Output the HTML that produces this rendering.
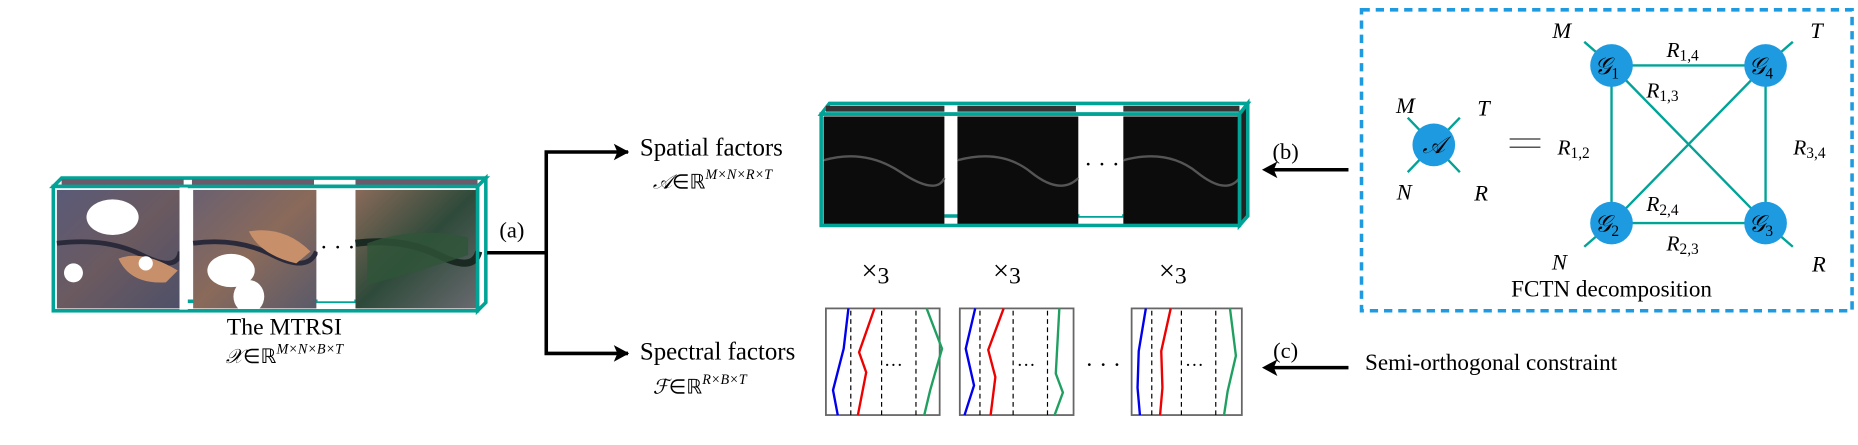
<!DOCTYPE html>
<html><head><meta charset="utf-8"><style>
html,body{margin:0;padding:0;background:#fff;}
svg{display:block;}
text{font-family:"Liberation Serif",serif;fill:#000;}
.i{font-style:italic;}
</style></head><body>
<svg width="1858" height="445" viewBox="0 0 1568 375" xmlns="http://www.w3.org/2000/svg">
<defs>
<linearGradient id="sat1" x1="0" y1="0" x2="1" y2="1">
<stop offset="0" stop-color="#5a5a78"/><stop offset="0.5" stop-color="#6b5a60"/><stop offset="1" stop-color="#4e5068"/>
</linearGradient>
<linearGradient id="sat2" x1="0" y1="0" x2="1" y2="1">
<stop offset="0" stop-color="#6a6070"/><stop offset="0.5" stop-color="#8a6a5a"/><stop offset="1" stop-color="#5a5a6a"/>
</linearGradient>
<linearGradient id="sat3" x1="0" y1="0" x2="1" y2="1">
<stop offset="0" stop-color="#8a6a5a"/><stop offset="0.5" stop-color="#2e4a3a"/><stop offset="1" stop-color="#6a6a70"/>
</linearGradient>
<marker id="ah" markerWidth="10" markerHeight="10" refX="9" refY="5" orient="auto" markerUnits="userSpaceOnUse">
<path d="M0,0 L10,5 L0,10 L3,5 Z" fill="#000"/>
</marker>
</defs>

<!-- MTRSI cube -->
<polygon points="45,157 52,150 410,150 403,157" fill="#fff" stroke="#00a396" stroke-width="3"/>
<polygon points="403,157 410,150 410,255 403,262" fill="#fff" stroke="#00a396" stroke-width="3"/>
<rect x="52" y="151" width="103" height="5" fill="#6a5a6a"/>
<rect x="162" y="151" width="103" height="5" fill="#6a5a6a"/>
<rect x="300" y="151" width="103" height="5" fill="#6a5a6a"/>
<line x1="155" y1="254" x2="300" y2="254" stroke="#00a396" stroke-width="3"/>
<rect x="48" y="160" width="104" height="100" fill="url(#sat1)"/>
<rect x="163" y="160" width="104" height="100" fill="url(#sat2)"/>
<rect x="300" y="160" width="104" height="100" fill="url(#sat3)"/>
<path d="M48,205 Q90,200 120,215 T152,212" stroke="#2a2a3a" stroke-width="4" fill="none"/>
<path d="M163,205 Q200,200 230,215 T267,212" stroke="#2a2a3a" stroke-width="4" fill="none"/>
<path d="M300,205 Q340,200 370,215 T404,212" stroke="#1a2a22" stroke-width="6" fill="none"/>
<path d="M100,218 Q120,210 150,228 L140,238 Q110,240 100,218Z" fill="#c8906a"/>
<path d="M210,195 Q240,190 262,212 L250,222 Q220,215 210,195Z" fill="#c8906a"/>
<ellipse cx="95" cy="183" rx="22" ry="15" fill="#fff"/>
<circle cx="62" cy="230" r="8" fill="#fff"/>
<circle cx="123" cy="222" r="6" fill="#fff"/>
<ellipse cx="195" cy="228" rx="20" ry="14" fill="#fff"/>
<ellipse cx="210" cy="250" rx="13" ry="14" fill="#fff"/>
<path d="M310,205 Q350,190 395,200 L395,215 Q350,230 310,240Z" fill="#2f5538" opacity="0.8"/>
<rect x="45" y="157" width="358" height="105" fill="none" stroke="#00a396" stroke-width="3"/>
<line x1="155" y1="158" x2="155" y2="261" stroke="#fff" stroke-width="7"/>
<line x1="300" y1="158" x2="300" y2="255" stroke="#fff" stroke-width="0"/>
<rect x="268" y="159" width="31" height="95" fill="#fff"/>
<text x="270" y="215" font-size="20">· · ·</text>
<text x="240" y="282" font-size="20" text-anchor="middle">The MTRSI</text>
<text x="240" y="306" font-size="17" text-anchor="middle"><tspan class="i">𝒳</tspan>∈ℝ<tspan font-size="12" dy="-8" class="i">M×N×B×T</tspan></text>

<!-- (a) connector -->
<line x1="411" y1="213" x2="461" y2="213" stroke="#000" stroke-width="3"/>
<text x="432" y="200" font-size="19" text-anchor="middle">(a)</text>
<polyline points="530,128 461,128 461,298 530,298" fill="none" stroke="#000" stroke-width="3" marker-start="none"/>
<path d="M518,121 L531,128 L518,135 L521,128Z" fill="#000"/>
<path d="M518,291 L531,298 L518,305 L521,298Z" fill="#000"/>

<text x="540" y="131" font-size="21">Spatial factors</text>
<text x="551" y="159" font-size="17"><tspan class="i">𝒜</tspan>∈ℝ<tspan font-size="12" dy="-8" class="i">M×N×R×T</tspan></text>
<text x="540" y="303" font-size="21">Spectral factors</text>
<text x="551" y="332" font-size="17"><tspan class="i">ℱ</tspan>∈ℝ<tspan font-size="12" dy="-8" class="i">R×B×T</tspan></text>

<!-- spatial cube -->
<polygon points="693,96 700,87 1053,87 1046,96" fill="#fff" stroke="#00a396" stroke-width="3"/>
<polygon points="1046,96 1053,87 1053,182 1046,190" fill="#222" stroke="#00a396" stroke-width="3"/>
<rect x="697" y="89" width="100" height="5" fill="#333"/>
<rect x="808" y="89" width="100" height="5" fill="#333"/>
<rect x="948" y="89" width="98" height="5" fill="#333"/>
<line x1="797" y1="182" x2="948" y2="182" stroke="#00a396" stroke-width="3"/>
<rect x="695" y="98" width="102" height="91" fill="#0c0c0c"/>
<rect x="808" y="98" width="102" height="91" fill="#0c0c0c"/>
<rect x="948" y="98" width="98" height="91" fill="#0c0c0c"/>
<path d="M695,135 Q730,125 760,145 T797,150" stroke="#555" stroke-width="2" fill="none"/>
<path d="M808,135 Q845,125 870,145 T910,150" stroke="#555" stroke-width="2" fill="none"/>
<path d="M948,135 Q985,125 1010,145 T1046,150" stroke="#555" stroke-width="2" fill="none"/>
<rect x="911" y="98" width="36" height="84" fill="#fff"/>
<text x="915" y="145" font-size="20">· · ·</text>
<rect x="693" y="96" width="353" height="94" fill="none" stroke="#00a396" stroke-width="3"/>
<line x1="799" y1="97" x2="799" y2="189" stroke="#fff" stroke-width="0"/>

<!-- (b),(c) arrows -->
<text x="1085" y="134" font-size="19" text-anchor="middle">(b)</text>
<line x1="1138" y1="143" x2="1072" y2="143" stroke="#000" stroke-width="3"/>
<path d="M1078,136 L1065,143 L1078,150 L1075,143Z" fill="#000"/>
<text x="1085" y="302" font-size="19" text-anchor="middle">(c)</text>
<line x1="1138" y1="310" x2="1072" y2="310" stroke="#000" stroke-width="3"/>
<path d="M1078,303 L1065,310 L1078,317 L1075,310Z" fill="#000"/>
<text x="1152" y="312" font-size="19.5">Semi-orthogonal constraint</text>

<!-- x3 -->
<text x="727" y="236" font-size="24" font-family="Liberation Sans">×<tspan font-family="Liberation Serif" font-size="20" dy="3">3</tspan></text>
<text x="838" y="236" font-size="24" font-family="Liberation Sans">×<tspan font-family="Liberation Serif" font-size="20" dy="3">3</tspan></text>
<text x="978" y="236" font-size="24" font-family="Liberation Sans">×<tspan font-family="Liberation Serif" font-size="20" dy="3">3</tspan></text>

<!-- spectral boxes -->
<g stroke-width="2" fill="none">
<rect x="697" y="260" width="96" height="90" stroke="#666" stroke-width="1.5"/>
<line x1="718" y1="262" x2="718" y2="350" stroke="#000" stroke-width="1" stroke-dasharray="4,3"/>
<line x1="744" y1="262" x2="744" y2="350" stroke="#000" stroke-width="1" stroke-dasharray="4,3"/>
<line x1="773" y1="262" x2="773" y2="350" stroke="#000" stroke-width="1" stroke-dasharray="4,3"/>
<polyline points="716,260 712,294 703,329 707,350" stroke="#0000ee"/>
<polyline points="738,260 725,297 731,314 724,350" stroke="#ee0000"/>
<polyline points="782,260 795,294 785,329 780,350" stroke="#20a060"/>
<rect x="810" y="260" width="96" height="90" stroke="#666" stroke-width="1.5"/>
<line x1="827" y1="262" x2="827" y2="350" stroke="#000" stroke-width="1" stroke-dasharray="4,3"/>
<line x1="855" y1="262" x2="855" y2="350" stroke="#000" stroke-width="1" stroke-dasharray="4,3"/>
<line x1="884" y1="262" x2="884" y2="350" stroke="#000" stroke-width="1" stroke-dasharray="4,3"/>
<polyline points="823,260 815,294 822,325 814,350" stroke="#0000ee"/>
<polyline points="847,260 834,295 840,318 836,350" stroke="#ee0000"/>
<polyline points="894,260 891,315 897,331 890,350" stroke="#20a060"/>
<rect x="955" y="260" width="93" height="90" stroke="#666" stroke-width="1.5"/>
<line x1="972" y1="262" x2="972" y2="350" stroke="#000" stroke-width="1" stroke-dasharray="4,3"/>
<line x1="997" y1="262" x2="997" y2="350" stroke="#000" stroke-width="1" stroke-dasharray="4,3"/>
<line x1="1026" y1="262" x2="1026" y2="350" stroke="#000" stroke-width="1" stroke-dasharray="4,3"/>
<polyline points="967,260 961,296 960,327 962,350" stroke="#0000ee"/>
<polyline points="988,260 980,296 981,327 979,350" stroke="#ee0000"/>
<polyline points="1038,260 1043,300 1036,330 1033,350" stroke="#20a060"/>
</g>
<text x="746" y="313" font-size="16">···</text>
<text x="858" y="313" font-size="16">···</text>
<text x="1000" y="313" font-size="16">···</text>
<text x="916" y="314" font-size="20">· · ·</text>

<!-- FCTN dashed box -->
<rect x="1149" y="8" width="414" height="254" fill="none" stroke="#1e9be0" stroke-width="3" stroke-dasharray="7,5"/>
<g stroke="#00a396" stroke-width="2">
<line x1="1188" y1="99" x2="1232" y2="145"/>
<line x1="1232" y1="99" x2="1188" y2="145"/>
<line x1="1360" y1="55" x2="1490" y2="55"/>
<line x1="1360" y1="55" x2="1360" y2="188"/>
<line x1="1490" y1="55" x2="1490" y2="188"/>
<line x1="1360" y1="188" x2="1490" y2="188"/>
<line x1="1360" y1="55" x2="1490" y2="188"/>
<line x1="1490" y1="55" x2="1360" y2="188"/>
<line x1="1360" y1="55" x2="1337" y2="35"/>
<line x1="1490" y1="55" x2="1513" y2="35"/>
<line x1="1360" y1="188" x2="1337" y2="208"/>
<line x1="1490" y1="188" x2="1513" y2="208"/>
</g>
<g fill="#1e9be0">
<circle cx="1210" cy="122" r="18"/>
<circle cx="1360" cy="55" r="18"/><circle cx="1490" cy="55" r="18"/>
<circle cx="1360" cy="188" r="18"/><circle cx="1490" cy="188" r="18"/>
</g>
<g font-size="20" class="i">
<text x="1210" y="129" text-anchor="middle" class="i">𝒜</text>
<text x="1356" y="62" text-anchor="middle">𝒢<tspan font-size="13" font-style="normal" dy="4">1</tspan></text>
<text x="1486" y="62" text-anchor="middle">𝒢<tspan font-size="13" font-style="normal" dy="4">4</tspan></text>
<text x="1356" y="195" text-anchor="middle">𝒢<tspan font-size="13" font-style="normal" dy="4">2</tspan></text>
<text x="1486" y="195" text-anchor="middle">𝒢<tspan font-size="13" font-style="normal" dy="4">3</tspan></text>
</g>
<g font-size="19" font-style="italic">
<text x="1186" y="95" text-anchor="middle">M</text>
<text x="1252" y="97" text-anchor="middle">T</text>
<text x="1185" y="168" text-anchor="middle">N</text>
<text x="1250" y="169" text-anchor="middle">R</text>
<text x="1318" y="32" text-anchor="middle">M</text>
<text x="1533" y="32" text-anchor="middle">T</text>
<text x="1316" y="227" text-anchor="middle">N</text>
<text x="1535" y="229" text-anchor="middle">R</text>
</g>
<line x1="1274" y1="117" x2="1300" y2="117" stroke="#555" stroke-width="1.3"/>
<line x1="1274" y1="124" x2="1300" y2="124" stroke="#555" stroke-width="1.3"/>
<g font-size="18">
<text x="1420" y="48" text-anchor="middle"><tspan class="i">R</tspan><tspan font-size="13" dy="3">1,4</tspan></text>
<text x="1403" y="82" text-anchor="middle"><tspan class="i">R</tspan><tspan font-size="13" dy="3">1,3</tspan></text>
<text x="1328" y="130" text-anchor="middle"><tspan class="i">R</tspan><tspan font-size="13" dy="3">1,2</tspan></text>
<text x="1527" y="130" text-anchor="middle"><tspan class="i">R</tspan><tspan font-size="13" dy="3">3,4</tspan></text>
<text x="1403" y="178" text-anchor="middle"><tspan class="i">R</tspan><tspan font-size="13" dy="3">2,4</tspan></text>
<text x="1420" y="211" text-anchor="middle"><tspan class="i">R</tspan><tspan font-size="13" dy="3">2,3</tspan></text>
</g>
<text x="1360" y="250" font-size="19.5" text-anchor="middle">FCTN decomposition</text>
</svg>
</body></html>
